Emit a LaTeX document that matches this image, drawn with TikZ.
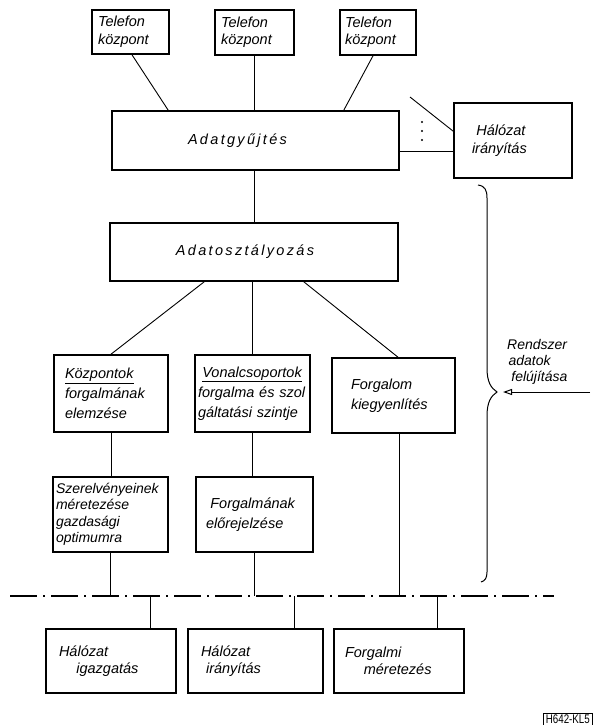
\documentclass[tikz,border=0pt]{standalone}
\usepackage{fontspec}
\setmainfont{Liberation Sans}
\usetikzlibrary{calc,arrows.meta}
\begin{document}
\begin{tikzpicture}[x=1pt,y=-1pt,
  box/.style={draw, line width=1.6pt, rectangle, inner ysep=2pt,
    font=\fontsize{14.5}{17.5}\selectfont\itshape, align=left},
  tw/.style 2 args={inner xsep=#1, text width=#2},
  widebox/.style={draw, line width=1.6pt, rectangle,
    font=\fontsize{14.5}{17}\selectfont\itshape\addfontfeature{LetterSpace=16}},
  midbox/.style={box, font=\fontsize{14.5}{20}\selectfont\itshape},
  conn/.style={line width=0.9pt},
  bus/.style={line width=1.3pt, dash pattern=on 27pt off 6pt on 2pt off 6pt},
  brace/.style={line width=1pt},
  lbl/.style={font=\fontsize{14}{16}\selectfont\itshape, align=left, inner sep=0pt}]
\useasboundingbox (0,0) rectangle (597,725);

% top row
\node[box, tw={6pt}{65pt}, minimum height=44pt] (T1) at (130.5,32) {Telefon\\központ};
\node[box, tw={6pt}{67pt}, minimum height=45pt] (T2) at (254.5,32.5) {Telefon\\központ};
\node[box, tw={5pt}{66pt}, minimum height=45pt] (T3) at (378,32.5) {Telefon\\központ};

\node[widebox, minimum width=287pt, minimum height=59pt] (AG) at (255.5,140.5) {Adatgyűjtés\rule{36pt}{0pt}};
\node[box, tw={18pt}{82pt}, minimum height=75pt] (HI) at (513,140.5) {\hspace{0.3em}Hálózat\\irányítás};

\node[widebox, minimum width=288pt, minimum height=58pt] (AO) at (254,252) {Adatosztályozás\rule{18pt}{0pt}};

% third row
\node[midbox, tw={11pt}{92pt}, minimum height=77pt] (A) at (111,393.5) {\underline{Központok}\\forgalmának\\elemzése};
\node[midbox, tw={3pt}{109pt}, minimum height=77pt] (B) at (252.5,393.5) {\hspace{0.3em}\underline{Vonalcsoportok}\\forgalma és szol\\gáltatási szintje};
\node[midbox, tw={19pt}{85pt}, minimum height=75pt] (C) at (393.5,395.5) {Forgalom\\kiegyenlítés};

% fourth row
\node[box, tw={3pt}{109pt}, minimum height=75pt, font=\fontsize{14}{16.5}\selectfont\itshape] (D) at (110.5,514.5) {Szerelvényeinek\\méretezése\\gazdasági\\optimumra};
\node[midbox, tw={10pt}{97pt}, minimum height=75pt] (E) at (254.5,514.5) {\hspace{0.3em}Forgalmának\\előrejelzése};

% bottom row
\node[box, tw={13pt}{104pt}, minimum height=64pt] (F) at (111,661) {Hálózat\\\hspace{1.2em}igazgatás};
\node[box, tw={13pt}{109pt}, minimum height=64pt] (G) at (255.5,661) {Hálózat\\\hspace{0.35em}irányítás};
\node[box, tw={11pt}{108pt}, minimum height=64pt] (H) at (399,661) {Forgalmi\\\hspace{1.3em}méretezés};

\node[draw, line width=0.8pt, anchor=north west, inner xsep=2.5pt, inner ysep=1.5pt,
  font=\fontsize{12.5}{12.5}\selectfont\addfontfeature{FakeStretch=0.78}] (ID) at (543,713) {H642-KL5};

% connectors top
\draw[conn] ($(T1.south)+(1.5,0)$) -- ($(AG.north west)+(57,0)$);
\draw[conn] (T2.south) -- (T2.south |- AG.north);
\draw[conn] ($(T3.south)+(-5,0)$) -- ($(AG.north east)+(-56,0)$);
\coordinate (diag) at (410,97);
\draw[conn] (diag) -- ($(HI.north west)+(0,29)$);
\fill (422,122) circle (1.1pt) (422,131) circle (1.1pt) (422,140) circle (1.1pt);
\draw[conn] ($(AG.east)+(0,10.5)$) -- ($(HI.west)+(0,10.5)$);
\draw[conn] (AO.north |- AG.south) -- (AO.north);

\draw[conn] ($(AO.south west)+(95,0)$) -- (A.north);
\draw[conn] (B.north |- AO.south) -- (B.north);
\draw[conn] ($(AO.south east)+(-95,0)$) -- ($(C.north)+(4.5,0)$);

\draw[conn] (A.south) -- (A.south |- D.north);
\draw[conn] (B.south) -- (B.south |- E.north);

% bus
\coordinate (busL) at (10,596);
\coordinate (busR) at (554,596);
\draw[bus] (busL) -- (busR);
\coordinate (cB) at ($(C.south)+(5.5,0)$);
\coordinate (fT) at ($(F.north)+(39,0)$);
\coordinate (gT) at ($(G.north)+(38.5,0)$);
\coordinate (hT) at ($(H.north)+(38,0)$);
\draw[conn] (D.south) -- (D.south |- busL);
\draw[conn] (E.south) -- (E.south |- busL);
\draw[conn] (cB) -- (cB |- busL);
\draw[conn] (fT |- busL) -- (fT);
\draw[conn] (gT |- busL) -- (gT);
\draw[conn] (hT |- busL) -- (hT);

% brace
\coordinate (btip) at (497,392);
\draw[brace] (478,185) .. controls (485,186) and (487,190) .. (487,198)
  -- (487,368) .. controls (487,382) and (491,388) .. (btip)
  .. controls (491,396) and (487,402) .. (487,416)
  -- (487,572) .. controls (487,578) and (485,581) .. (481,582);

% arrow
\coordinate (astart) at (590,392);
\draw[line width=1pt, -{Triangle[open, length=9pt, width=6pt, line width=1pt]}] (astart) -- ($(btip)+(6,0)$);
\node[lbl, anchor=west] (RA) at (507,362) {Rendszer\\\hspace{0.1em}adatok\\\hspace{0.3em}felújítása};
\end{tikzpicture}
\end{document}
